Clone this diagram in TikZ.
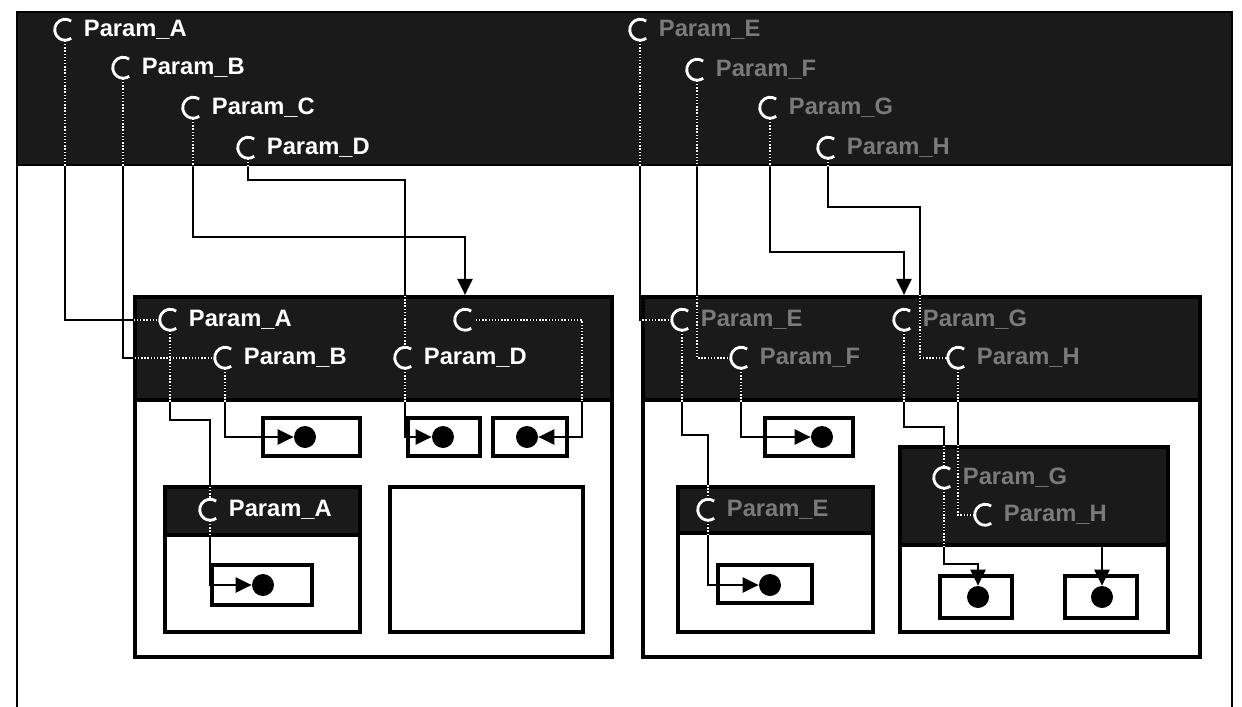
\documentclass[tikz,border=0pt]{standalone}
\usepackage{fontspec}
\setsansfont{Liberation Sans}
\usetikzlibrary{arrows.meta,positioning,fit}
\definecolor{scan}{HTML}{1A1A1A}
\definecolor{dimtext}{HTML}{7A7A7A}
\tikzset{
  frame/.style={line width=1.6pt},
  shade/.style={draw,line width=1.6pt,fill=scan,inner sep=0pt},
  panel/.style={draw,line width=2.4pt,fill=white,inner sep=0pt},
  hdr/.style={draw,line width=2.4pt,fill=scan,inner sep=0pt},
  tbox/.style={draw,line width=2.2pt,fill=white,inner sep=0pt},
  dot/.style={circle,fill=black,inner sep=0pt,minimum size=0.44cm},
  port/.style={circle,inner sep=0pt,minimum size=0.42cm},
  portarc/.style={white,line width=1.6pt},
  lbl/.style={font=\sffamily\bfseries\fontsize{13.5}{15}\selectfont,text=white,inner sep=1pt},
  dimlbl/.style={lbl,text=dimtext},
  wire/.style={line width=1.3pt},
  sig/.style={wire,-{Triangle[length=0.32cm,width=0.3cm]}}
}
% all connectors, drawn twice (black, then white inside the dark bands)
\newcommand{\wiring}{%
  \draw[wire] (tA.south) |- (lpA.west);
  \draw[wire] (tB.south) |- (lpB.west);
  \draw[sig] (tC.south) -- ++(0,118) -| (lpC |- lphd.north);
  \draw[wire] (tD.south) -- ++(0,21) -| (lpD.north);
  \draw[wire] (lpA.south) -- ++(0,89) -| (lsA.north);
  \draw[sig] (lsA.south) |- (ldA.west);
  \draw[sig] (lpB.south) |- (ld1.west);
  \draw[sig] (lpD.south) |- (ld2.west);
  \draw[wire] (lpC.east) -| (lcout);
  \draw[sig] (lcout) |- (ld3.east);
  \draw[wire] (tE.south) |- (rpE.west);
  \draw[wire] (tF.south) |- (rpF.west);
  \draw[sig] (tG.south) -- ++(0,133) -| (rpG |- rphd.north);
  \draw[wire] (tH.south) |- ++(92,48) |- (rpH.west);
  \draw[wire] (rpE.south) -- ++(0,104) -| (rsE.north);
  \draw[sig] (rsE.south) |- (rdE.west);
  \draw[sig] (rpF.south) |- (rd1.west);
  \draw[wire] (rpG.south) -- ++(0,96) -| (rsG.north);
  \draw[sig] (rsG.south) -- ++(0,75) -| (rdG.north);
  \draw[wire] (rpH.south) |- (rsH.west);
  \draw[sig] (rdH |- rbigh.south) -- (rdH.north);
}

\begin{document}
\begin{tikzpicture}[x=0.02cm,y=-0.02cm]
  \useasboundingbox (0,0) rectangle (1242,707);

  % top band
  \node[shade,fit={(17,12) (1232,165)}] (band) {};
  \draw[frame] (17,707) -- (17,12) -- (1232,12) -- (1232,707);

  % left block
  \node[panel,fit={(135,297) (612,657)}] (lpanel) {};
  \node[hdr,fit={(135,297) (612,400)}] (lphd) {};
  \node[panel,fit={(165,487) (360,632)}] (lsub) {};
  \node[hdr,fit={(165,487) (360,535)}] (lsAh) {};
  \node[panel,fit={(390,487) (583,632)}] (lempty) {};
  \node[tbox,fit={(263,418) (360,456)}] (lb1) {};
  \node[tbox,fit={(408,418) (480,456)}] (lb2) {};
  \node[tbox,fit={(493,418) (567,456)}] (lb3) {};
  \node[tbox,fit={(212,565) (312,605)}] (lbA) {};
  \node[dot] (ld1) at (305,437) {};
  \node[dot] (ld2) at (443,437) {};
  \node[dot] (ld3) at (527,437) {};
  \node[dot] (ldA) at (263,585) {};

  % right block
  \node[panel,fit={(643,297) (1200,657)}] (rpanel) {};
  \node[hdr,fit={(643,297) (1200,400)}] (rphd) {};
  \node[panel,fit={(678,487) (873,632)}] (rsub) {};
  \node[hdr,fit={(678,487) (873,533)}] (rsEh) {};
  \node[panel,fit={(900,447) (1168,632)}] (rbig) {};
  \node[hdr,fit={(900,447) (1168,545)}] (rbigh) {};
  \node[tbox,fit={(765,418) (853,456)}] (rb1) {};
  \node[tbox,fit={(718,565) (812,603)}] (rbE) {};
  \node[tbox,fit={(940,576) (1012,618)}] (rbG) {};
  \node[tbox,fit={(1065,576) (1137,618)}] (rbH) {};
  \node[dot] (rd1) at (822,437) {};
  \node[dot] (rdE) at (770,585) {};
  \node[dot] (rdG) at (978,597) {};
  \node[dot] (rdH) at (1102,597) {};

  % ports
  \node[port] (tA) at (65,30) {};
  \node[port] (tB) at (123,68) {};
  \node[port] (tC) at (193,108) {};
  \node[port] (tD) at (248,148) {};
  \node[port] (tE) at (640,30) {};
  \node[port] (tF) at (697,70) {};
  \node[port] (tG) at (770,108) {};
  \node[port] (tH) at (828,148) {};
  \node[port] (lpA) at (170,320) {};
  \node[port] (lpB) at (225,358) {};
  \node[port] (lpC) at (465,320) {};
  \node[port] (lpD) at (405,358) {};
  \node[port] (lsA) at (210,510) {};
  \node[port] (rpE) at (682,320) {};
  \node[port] (rpF) at (741,358) {};
  \node[port] (rpG) at (904,320) {};
  \node[port] (rpH) at (958,358) {};
  \node[port] (rsE) at (708,510) {};
  \node[port] (rsG) at (944,478) {};
  \node[port] (rsH) at (985,515) {};
  \coordinate (lcout) at (582,400);

  \wiring
  \begin{scope}[wire/.style={white,line width=0.8pt,densely dotted}]
    \clip (band.north west) rectangle (band.south east)
          (lphd.north west) rectangle (lphd.south east)
          (rphd.north west) rectangle (rphd.south east)
          (lsAh.north west) rectangle (lsAh.south east)
          (rsEh.north west) rectangle (rsEh.south east)
          (rbigh.north west) rectangle (rbigh.south east);
    \wiring
  \end{scope}

  % port rings, open towards the label
  \foreach \p in {tA,tB,tC,tD,tE,tF,tG,tH,lpA,lpB,lpC,lpD,lsA,rpE,rpF,rpG,rpH,rsE,rsG,rsH}
    \draw[portarc] (\p.55) arc[start angle=55,end angle=305,radius=0.21cm];

  % Labels
  \node[lbl,right=0.12cm of tA] (tAl) {Param\_A};
  \node[lbl,right=0.12cm of tB] (tBl) {Param\_B};
  \node[lbl,right=0.12cm of tC] (tCl) {Param\_C};
  \node[lbl,right=0.12cm of tD] (tDl) {Param\_D};
  \node[dimlbl,right=0.12cm of tE] (tEl) {Param\_E};
  \node[dimlbl,right=0.12cm of tF] (tFl) {Param\_F};
  \node[dimlbl,right=0.12cm of tG] (tGl) {Param\_G};
  \node[dimlbl,right=0.12cm of tH] (tHl) {Param\_H};
  \node[lbl,right=0.12cm of lpA] (lpAl) {Param\_A};
  \node[lbl,right=0.12cm of lpB] (lpBl) {Param\_B};
  \node[lbl,right=0.12cm of lpD] (lpDl) {Param\_D};
  \node[lbl,right=0.12cm of lsA] (lsAl) {Param\_A};
  \node[dimlbl,right=0.12cm of rpE] (rpEl) {Param\_E};
  \node[dimlbl,right=0.12cm of rpF] (rpFl) {Param\_F};
  \node[dimlbl,right=0.12cm of rpG] (rpGl) {Param\_G};
  \node[dimlbl,right=0.12cm of rpH] (rpHl) {Param\_H};
  \node[dimlbl,right=0.12cm of rsE] (rsEl) {Param\_E};
  \node[dimlbl,right=0.12cm of rsG] (rsGl) {Param\_G};
  \node[dimlbl,right=0.12cm of rsH] (rsHl) {Param\_H};
\end{tikzpicture}
\end{document}
